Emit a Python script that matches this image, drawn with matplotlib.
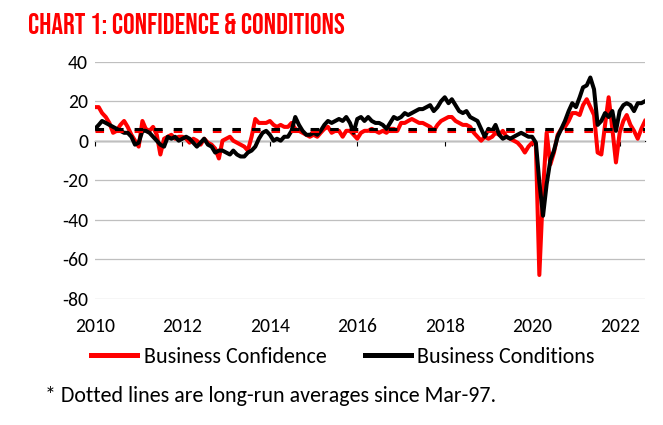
from __future__ import annotations

import matplotlib

matplotlib.use("Agg")

import matplotlib.dates as mdates
import matplotlib.pyplot as plt
import pandas as pd
from matplotlib import font_manager


OUT_PATH = "out.png"
START_MONTH = "2010-01"
RED = "#ff0000"
GRID = "#bfbfbf"

TITLE = "CHART 1: CONFIDENCE & CONDITIONS"
FOOTNOTE = "* Dotted lines are long-run averages since Mar-97."
SERIES_LABELS = ["Business Confidence", "Business Conditions"]

# monthly readings, Jan-2010 .. Aug-2022
CONFIDENCE = [
    17, 17, 14, 12, 9, 4, 5, 8, 10, 7, 3, 0,          # 2010
    -3, 10, 6, 5, 7, 3, -7, 1, 2, 3, 1, 2,            # 2011
    2, 1, -1, 1, 0, -2, 1, -1, -2, -4, -9, 0,         # 2012
    1, 2, 0, -1, -2, -3, -5, 2, 11, 9, 9, 9,          # 2013
    10, 8, 7, 8, 7, 7, 9, 6, 5, 4, 3, 2,              # 2014
    3, 2, 4, 6, 7, 4, 5, 5, 2, 5, 5, 3,               # 2015
    1, 4, 5, 5, 6, 5, 4, 5, 4, 6, 6, 5,               # 2016
    9, 9, 10, 11, 10, 9, 9, 8, 7, 5, 8, 10,           # 2017
    11, 12, 12, 10, 9, 8, 8, 7, 4, 2, 0, 2,           # 2018
    1, 2, 4, 3, 5, 2, 1, 0, -1, -3, -6, -3,           # 2019
    -1, -2, -68, -25, 4, -12, -6, 3, 6, 7, 10, 14,    # 2020
    14, 13, 18, 21, 17, 13, -6, -7, 8, 22, 6, -11,    # 2021
    4, 10, 13, 8, 5, 1, 6, 10,                        # 2022
]
CONDITIONS = [
    6, 8, 10, 9, 8, 7, 6, 5, 4, 4, 2, -2,             # 2010
    -1, 5, 5, 4, 2, 0, -2, -3, 2, 1, 2, 0,            # 2011
    1, 2, 1, -1, -3, -1, 1, -2, -3, -6, -5, -5,       # 2012
    -6, -7, -5, -7, -8, -8, -6, -5, -3, 1, 4, 5,      # 2013
    3, 0, 1, 0, 2, 2, 5, 12, 8, 5, 3, 3,              # 2014
    4, 3, 5, 8, 10, 9, 10, 11, 10, 12, 9, 4,          # 2015
    11, 12, 10, 12, 10, 9, 9, 8, 6, 9, 12, 11,        # 2016
    12, 14, 13, 14, 15, 16, 16, 17, 18, 15, 17, 20,   # 2017
    22, 19, 21, 18, 15, 14, 15, 12, 11, 10, 6, 2,     # 2018
    6, 5, 8, 3, 1, 2, 1, 2, 3, 4, 3, 2,               # 2019
    2, -1, -21, -38, -22, -10, -5, 2, 6, 10, 15, 19,  # 2020
    17, 22, 27, 28, 32, 26, 8, 10, 14, 12, 15, 5,     # 2021
    15, 18, 19, 18, 15, 19, 19, 20,                   # 2022
]
CONFIDENCE_AVG = 5
CONDITIONS_AVG = 6

Y_TICKS = [-80, -60, -40, -20, 0, 20, 40]
X_TICK_YEARS = [2010, 2012, 2014, 2016, 2018, 2020, 2022]


def first_font(candidates: list[str]) -> str:
    available = {f.name for f in font_manager.fontManager.ttflist}
    for name in candidates:
        if name in available:
            return name
    return "DejaVu Sans"


def fitted_size(fig, text: str, family: str, target_px: float, weight: str = "normal") -> float:
    # font size that makes `text` about target_px wide
    probe = fig.text(0, 0, text, fontsize=20, family=family, fontweight=weight)
    width = probe.get_window_extent(fig.canvas.get_renderer()).width
    probe.remove()
    return 20 * target_px / width


def draw(out_path: str) -> None:
    plt.rcParams["axes.unicode_minus"] = False
    body = first_font(["Carlito", "Lato", "Open Sans"])
    head = first_font(["Bebas Neue", "League Gothic", "Oswald", "Antonio", "Barlow Condensed"])

    dates = pd.date_range(START_MONTH, periods=len(CONFIDENCE), freq="MS")
    year_ticks = [pd.Timestamp(year=y, month=1, day=1) for y in X_TICK_YEARS]

    fig = plt.figure(figsize=(6.63, 4.25), dpi=100)
    ax = fig.add_axes([0.1433, 0.2972, 0.8296, 0.5576])

    tick_size = fitted_size(fig, "2010", body, 40)
    legend_size = fitted_size(fig, SERIES_LABELS[0], body, 182)
    note_size = fitted_size(fig, FOOTNOTE, body, 452)
    title_size = fitted_size(fig, TITLE, head, 316, weight="bold")

    ax.plot(dates, CONFIDENCE, color=RED, lw=2.9, solid_joinstyle="round", label=SERIES_LABELS[0], zorder=3)
    ax.plot(dates, CONDITIONS, color="black", lw=2.9, solid_joinstyle="round", label=SERIES_LABELS[1], zorder=4)
    ax.axhline(CONFIDENCE_AVG, color=RED, lw=2.2, dashes=(2.8, 3.6), zorder=5)
    ax.axhline(CONDITIONS_AVG, color="black", lw=2.2, dashes=(2.8, 3.6), zorder=6)

    ax.set_xlim(dates[0], dates[-1])
    ax.set_ylim(Y_TICKS[0], Y_TICKS[-1])
    ax.set_yticks(Y_TICKS)
    ax.set_xticks(year_ticks)
    ax.xaxis.set_major_formatter(mdates.DateFormatter("%Y"))
    ax.yaxis.grid(True, color=GRID, lw=0.9)
    ax.set_axisbelow(True)
    for spine in ax.spines.values():
        spine.set_visible(False)
    ax.tick_params(axis="x", length=0, pad=14, labelsize=tick_size)
    ax.tick_params(axis="y", length=0, pad=5, labelsize=tick_size)
    for label in ax.get_xticklabels() + ax.get_yticklabels():
        label.set_family(body)

    # zero line carries the year tick marks
    zero_frac = (0 - Y_TICKS[0]) / (Y_TICKS[-1] - Y_TICKS[0])
    zero_axis = ax.secondary_xaxis(zero_frac)
    zero_axis.set_alignment("bottom")
    zero_axis.set_xticks(year_ticks)
    zero_axis.tick_params(direction="out", length=3.5, width=0.8, labelbottom=False, labeltop=False)
    zero_axis.spines["bottom"].set_linewidth(0.9)

    fig.text(28 / 663, 1 - 24 / 425, TITLE, color=RED, fontsize=title_size, fontweight="bold",
             family=head, va="center", ha="left")
    legend = fig.legend(loc="center", bbox_to_anchor=(343 / 663, 1 - 357 / 425), ncol=2, frameon=False,
                        handlelength=2.1, handletextpad=0.3, columnspacing=1.75,
                        prop={"family": body, "size": legend_size})
    for line in legend.get_lines():
        line.set_linewidth(3.6)
    fig.text(45 / 663, 1 - 396 / 425, FOOTNOTE, fontsize=note_size, family=body, va="center", ha="left")

    fig.savefig(out_path, dpi=100)
    plt.close(fig)


def main() -> None:
    draw(OUT_PATH)


if __name__ == "__main__":
    main()
